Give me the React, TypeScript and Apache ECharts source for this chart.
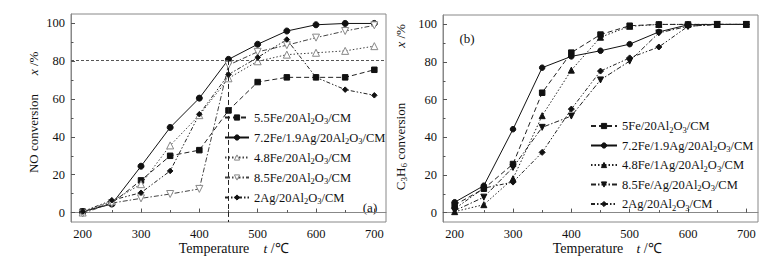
import React, { useEffect, useRef } from "react";
import * as echarts from "echarts";

const FONT = '"Liberation Serif", "Times New Roman", Times, serif';
const TXT = "#111111";

// Temperature (°C)
const temps = [200, 250, 300, 350, 400, 450, 500, 550, 600, 650, 700];
const xLabelValues = [200, 300, 400, 500, 600, 700];
const xMajorTicks = [200, 300, 400, 500, 600, 700];
const xMinorTicks = [250, 350, 450, 550, 650];
const yLabelValues = [0, 20, 40, 60, 80, 100];
const yMajorTicks = [0, 20, 40, 60, 80, 100];
const yMinorTicks = [10, 30, 50, 70, 90];

// Panel (a): NO conversion x/%
const a55Fe = [0.5, 5, 17, 30, 33, 54, 69, 71.5, 71.5, 71.5, 75.5];
const a72Fe19Ag = [0.5, 4.5, 24.5, 45, 60.5, 81, 89, 96, 99.3, 100, 100];
const a48Fe = [0, 6, 15, 35.5, 51.5, 71, 80, 83.5, 84.5, 85.5, 88];
const a85Fe = [-0.5, 5, 7.5, 9.8, 12.5, 78, 85, 88.5, 92.5, 96, 99];
const a2Ag = [0.5, 6.5, 10.5, 22, 52, 73, 82, 91.5, 71.5, 65, 62];
const aRefY = 80.7;
const aRefX = 450;

// Panel (b): C3H6 conversion x/%
const b5Fe = [4, 12.7, 25.8, 63.7, 85, 94.6, 99.3, 100, 100, 100, 100];
const b72Fe19Ag = [5.5, 14.3, 44.3, 77, 83, 86, 89.5, 96, 99.8, 100, 100];
const b48Fe1Ag = [0.5, 4.2, 18, 51.5, 75.7, 93.2, 99, 100, 100, 100, 100];
const b85FeAg = [1, 8.2, 24, 45.3, 51.3, 70.5, 80.5, 95.5, 99, 100, 100];
const b2Ag = [2, 13, 16.2, 32, 55, 75.2, 82.2, 88, 99, 100, 100];

const namesA = [
  "a:5.5Fe/20Al2O3/CM",
  "a:7.2Fe/1.9Ag/20Al2O3/CM",
  "a:4.8Fe/20Al2O3/CM",
  "a:8.5Fe/20Al2O3/CM",
  "a:2Ag/20Al2O3/CM",
];
const namesB = [
  "b:5Fe/20Al2O3/CM",
  "b:7.2Fe/1.9Ag/20Al2O3/CM",
  "b:4.8Fe/1Ag/20Al2O3/CM",
  "b:8.5Fe/Ag/20Al2O3/CM",
  "b:2Ag/20Al2O3/CM",
];
const legendLabels: Record<string, string> = {
  "a:5.5Fe/20Al2O3/CM": "5.5Fe/20Al{s|2}O{s|3}/CM",
  "a:7.2Fe/1.9Ag/20Al2O3/CM": "7.2Fe/1.9Ag/20Al{s|2}O{s|3}/CM",
  "a:4.8Fe/20Al2O3/CM": "4.8Fe/20Al{s|2}O{s|3}/CM",
  "a:8.5Fe/20Al2O3/CM": "8.5Fe/20Al{s|2}O{s|3}/CM",
  "a:2Ag/20Al2O3/CM": "2Ag/20Al{s|2}O{s|3}/CM",
  "b:5Fe/20Al2O3/CM": "5Fe/20Al{s|2}O{s|3}/CM",
  "b:7.2Fe/1.9Ag/20Al2O3/CM": "7.2Fe/1.9Ag/20Al{s|2}O{s|3}/CM",
  "b:4.8Fe/1Ag/20Al2O3/CM": "4.8Fe/1Ag/20Al{s|2}O{s|3}/CM",
  "b:8.5Fe/Ag/20Al2O3/CM": "8.5Fe/Ag/20Al{s|2}O{s|3}/CM",
  "b:2Ag/20Al2O3/CM": "2Ag/20Al{s|2}O{s|3}/CM",
};

const DASH = [5, 3];
const DOT = [1.5, 2];
const DASHDOT = [5, 2, 1.5, 2];
const DASHDOTDOT = [4, 2, 1.5, 2, 1.5, 2];

function pts(vals: number[]) {
  return temps.map((t, i) => [t, vals[i]]);
}

function xAxes(gridIndex: number) {
  return [
    {
      type: "value",
      gridIndex,
      min: 180,
      max: 720,
      position: "bottom",
      axisLine: { show: true, lineStyle: { color: "#888", width: 1 } },
      axisTick: { show: true, inside: true, length: 4, customValues: xMajorTicks, lineStyle: { color: "#555" } },
      axisLabel: { customValues: xLabelValues, margin: 5, fontFamily: FONT, fontSize: 12.5, color: TXT },
      splitLine: { show: false },
    },
    {
      type: "value",
      gridIndex,
      min: 180,
      max: 720,
      position: "bottom",
      axisLine: { show: false },
      axisTick: { show: true, inside: true, length: 2.5, customValues: xMinorTicks, lineStyle: { color: "#555" } },
      axisLabel: { show: false },
      splitLine: { show: false },
    },
  ];
}

function yAxes(gridIndex: number) {
  return [
    {
      type: "value",
      gridIndex,
      min: -5,
      max: 105,
      position: "left",
      axisLine: { show: true, lineStyle: { color: "#888", width: 1 } },
      axisTick: { show: true, inside: true, length: 4, customValues: yMajorTicks, lineStyle: { color: "#555" } },
      axisLabel: { customValues: yLabelValues, margin: 6, fontFamily: FONT, fontSize: 12.5, color: TXT },
      splitLine: { show: false },
    },
    {
      type: "value",
      gridIndex,
      min: -5,
      max: 105,
      position: "left",
      axisLine: { show: false },
      axisTick: { show: true, inside: true, length: 2.5, customValues: yMinorTicks, lineStyle: { color: "#555" } },
      axisLabel: { show: false },
      splitLine: { show: false },
    },
  ];
}

type SDef = {
  name: string;
  data: number[];
  symbol: string;
  size: number;
  rotate?: number;
  dash: number[] | "solid";
  fill: string;
  border: string;
  lineColor: string;
};

const seriesA: SDef[] = [
  { name: namesA[0], data: a55Fe, symbol: "rect", size: 5.5, dash: DASH, fill: "#111", border: "#111", lineColor: "#222" },
  { name: namesA[1], data: a72Fe19Ag, symbol: "circle", size: 6, dash: "solid", fill: "#111", border: "#111", lineColor: "#111" },
  { name: namesA[2], data: a48Fe, symbol: "triangle", size: 7, dash: DOT, fill: "#fff", border: "#888", lineColor: "#444" },
  { name: namesA[3], data: a85Fe, symbol: "triangle", size: 7, rotate: 180, dash: DASHDOT, fill: "#fff", border: "#888", lineColor: "#444" },
  { name: namesA[4], data: a2Ag, symbol: "diamond", size: 5.5, dash: DASHDOTDOT, fill: "#111", border: "#111", lineColor: "#222" },
];

const seriesB: SDef[] = [
  { name: namesB[0], data: b5Fe, symbol: "rect", size: 5.5, dash: DASH, fill: "#111", border: "#111", lineColor: "#222" },
  { name: namesB[1], data: b72Fe19Ag, symbol: "circle", size: 5.5, dash: "solid", fill: "#111", border: "#111", lineColor: "#111" },
  { name: namesB[2], data: b48Fe1Ag, symbol: "triangle", size: 6, dash: DOT, fill: "#111", border: "#111", lineColor: "#222" },
  { name: namesB[3], data: b85FeAg, symbol: "triangle", size: 6, rotate: 180, dash: DASHDOT, fill: "#111", border: "#111", lineColor: "#222" },
  { name: namesB[4], data: b2Ag, symbol: "diamond", size: 6, dash: DASHDOTDOT, fill: "#111", border: "#111", lineColor: "#222" },
];

function buildSeries(defs: SDef[], axisIndex: number) {
  return defs.map((d) => ({
    type: "line",
    name: d.name,
    xAxisIndex: axisIndex,
    yAxisIndex: axisIndex,
    data: pts(d.data),
    symbol: d.symbol,
    symbolSize: d.size,
    symbolRotate: d.rotate || 0,
    showAllSymbol: true,
    lineStyle: { color: d.lineColor, width: 1, type: d.dash },
    itemStyle: { color: d.fill, borderColor: d.border, borderWidth: 1 },
    emphasis: { disabled: true },
    z: 3,
  }));
}

function legendData(defs: SDef[]) {
  return defs.map((d) => ({
    name: d.name,
    itemStyle: { color: d.fill, borderColor: d.border, borderWidth: 1 },
  }));
}

const legendText = {
  fontFamily: FONT,
  fontSize: 12.5,
  color: TXT,
  lineHeight: 14,
  rich: {
    s: { fontFamily: FONT, fontSize: 8.5, color: TXT, lineHeight: 14, padding: [7, 0, 0, 0] },
  },
};

const richBase = {
  i: { fontFamily: FONT, fontSize: 13.5, fontStyle: "italic", fill: TXT },
  s: { fontFamily: FONT, fontSize: 9, fill: TXT, lineHeight: 15, padding: [7, 0, 0, 0] },
};

function label(text: string, x: number, y: number, size: number, rotate = false) {
  return {
    type: "text",
    x,
    y,
    rotation: rotate ? Math.PI / 2 : 0,
    style: {
      text,
      fontFamily: FONT,
      fontSize: size,
      fill: TXT,
      align: "center",
      verticalAlign: "middle",
      rich: richBase,
    },
  };
}

export default function App() {
  const ref = useRef<HTMLDivElement>(null);
  useEffect(() => {
    if (!ref.current) return;
    const chart = echarts.init(ref.current, null, { renderer: "svg" });
    const sA = buildSeries(seriesA, 0);
    const sB = buildSeries(seriesB, 2);
    (sA[0] as any).markLine = {
      silent: true,
      symbol: ["none", "none"],
      label: { show: false },
      animation: false,
      data: [
        { yAxis: aRefY, lineStyle: { type: [3, 2], color: "#555", width: 1 } },
        [
          { coord: [aRefX, aRefY], lineStyle: { type: [5, 3], color: "#222", width: 1 } },
          { coord: [aRefX, -5] },
        ],
      ],
    };
    chart.setOption({
      animation: false,
      backgroundColor: "#ffffff",
      grid: [
        { left: 71, top: 14, width: 315, height: 208, show: true, borderColor: "#888", borderWidth: 1, backgroundColor: "transparent" },
        { left: 443, top: 15, width: 315, height: 207, show: true, borderColor: "#888", borderWidth: 1, backgroundColor: "transparent" },
      ],
      xAxis: [...xAxes(0), ...xAxes(1)],
      yAxis: [...yAxes(0), ...yAxes(1)],
      legend: [
        {
          data: legendData(seriesA),
          orient: "vertical",
          left: 224,
          top: 109.5,
          padding: 0,
          itemWidth: 24,
          itemHeight: 6.5,
          itemGap: 4,
          selectedMode: false,
          formatter: (n: string) => legendLabels[n],
          textStyle: legendText,
        },
        {
          data: legendData(seriesB),
          orient: "vertical",
          left: 590,
          top: 118,
          padding: 0,
          itemWidth: 26,
          itemHeight: 6.5,
          itemGap: 3.5,
          selectedMode: false,
          formatter: (n: string) => legendLabels[n],
          textStyle: legendText,
        },
      ],
      graphic: [
        label("(a)", 370, 207, 13),
        label("(b)", 467, 38, 13),
        label("Temperature", 214, 248, 14),
        label("{i|t} /℃", 276, 248, 14),
        label("Temperature", 588, 248, 14),
        label("{i|t} /℃", 649, 248, 14),
        label("NO conversion", 33, 133.5, 13, true),
        label("{i|x} /%", 33, 63.5, 13, true),
        label("C{s|3}H{s|6} conversion", 400, 146.5, 13, true),
        label("{i|x} /%", 400, 36, 13, true),
      ],
      series: [...sA, ...sB],
    });
    return () => chart.dispose();
  }, []);
  return (
    <div
      ref={ref}
      style={{ position: "absolute", left: 0, top: 0, width: 782, height: 264, background: "#fff" }}
    />
  );
}
